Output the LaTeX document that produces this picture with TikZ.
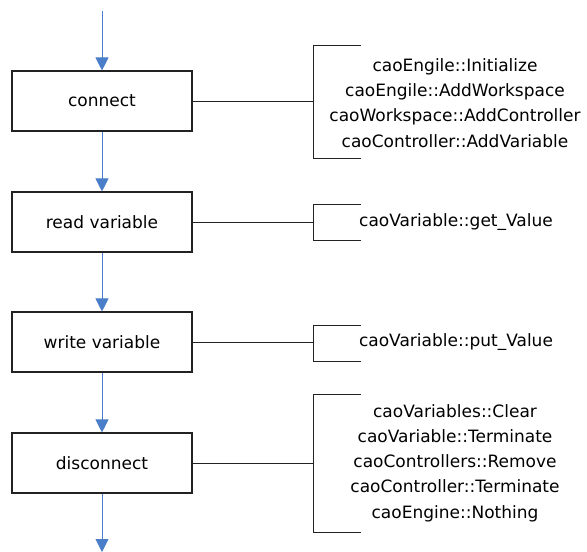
\documentclass[tikz,border=0pt]{standalone}
\usepackage{fontspec}
\setmainfont{DejaVu Sans}
\usetikzlibrary{arrows.meta}
\definecolor{flowblue}{HTML}{4A7EC8}
\definecolor{linegray}{HTML}{222222}
\begin{document}
\begin{tikzpicture}[x=1pt,y=-1pt,
  stepbox/.style={draw=linegray,line width=1.1pt,minimum width=180pt,minimum height=60pt,inner sep=0pt,font=\fontsize{17}{20}\selectfont},
  flow/.style={draw=flowblue,line width=0.9pt,-{Triangle[width=13pt,length=13pt]}},
  link/.style={draw=linegray,line width=0.9pt},
  brk/.style={draw=linegray,line width=0.9pt},
  apilist/.style={align=center,inner sep=0pt,font=\fontsize{17}{25.3}\selectfont}]
\useasboundingbox (0,0) rectangle (587,552);
\node[stepbox] (connect) at (102,101) {connect};
\node[stepbox] (read) at (102,222) {read variable};
\node[stepbox] (write) at (102,342) {write variable};
\node[stepbox] (disc) at (102,463) {disconnect};
\coordinate (top) at (102,11);
\coordinate (bottom) at (102,552);
\draw[flow] (top) -- (connect.north);
\draw[flow] (connect.south) -- (read.north);
\draw[flow] (read.south) -- (write.north);
\draw[flow] (write.south) -- (disc.north);
\draw[flow] (disc.south) -- (bottom);
% brackets
\coordinate (c1) at (313,101);
\coordinate (r1) at (313,222);
\coordinate (w1) at (313,342);
\coordinate (d1) at (313,463);
\draw[link] (connect.east) -- (c1);
\draw[link] (read.east) -- (r1);
\draw[link] (write.east) -- (w1);
\draw[link] (disc.east) -- (d1);
\draw[brk] (361,45) -- (313,45) -- (313,158) -- (361,158);
\draw[brk] (361,204) -- (313,204) -- (313,240) -- (361,240);
\draw[brk] (361,325) -- (313,325) -- (313,361) -- (361,361);
\draw[brk] (361,394) -- (313,394) -- (313,532) -- (361,532);
\node[apilist] (capi) at (455,103) {caoEngile::Initialize\\caoEngile::AddWorkspace\\caoWorkspace::AddController\\caoController::AddVariable};
\node[apilist] (rapi) at (456,222) {caoVariable::get\_Value};
\node[apilist] (wapi) at (456,342) {caoVariable::put\_Value};
\node[apilist] (dapi) at (455,463) {caoVariables::Clear\\caoVariable::Terminate\\caoControllers::Remove\\caoController::Terminate\\caoEngine::Nothing};
\end{tikzpicture}
\end{document}
